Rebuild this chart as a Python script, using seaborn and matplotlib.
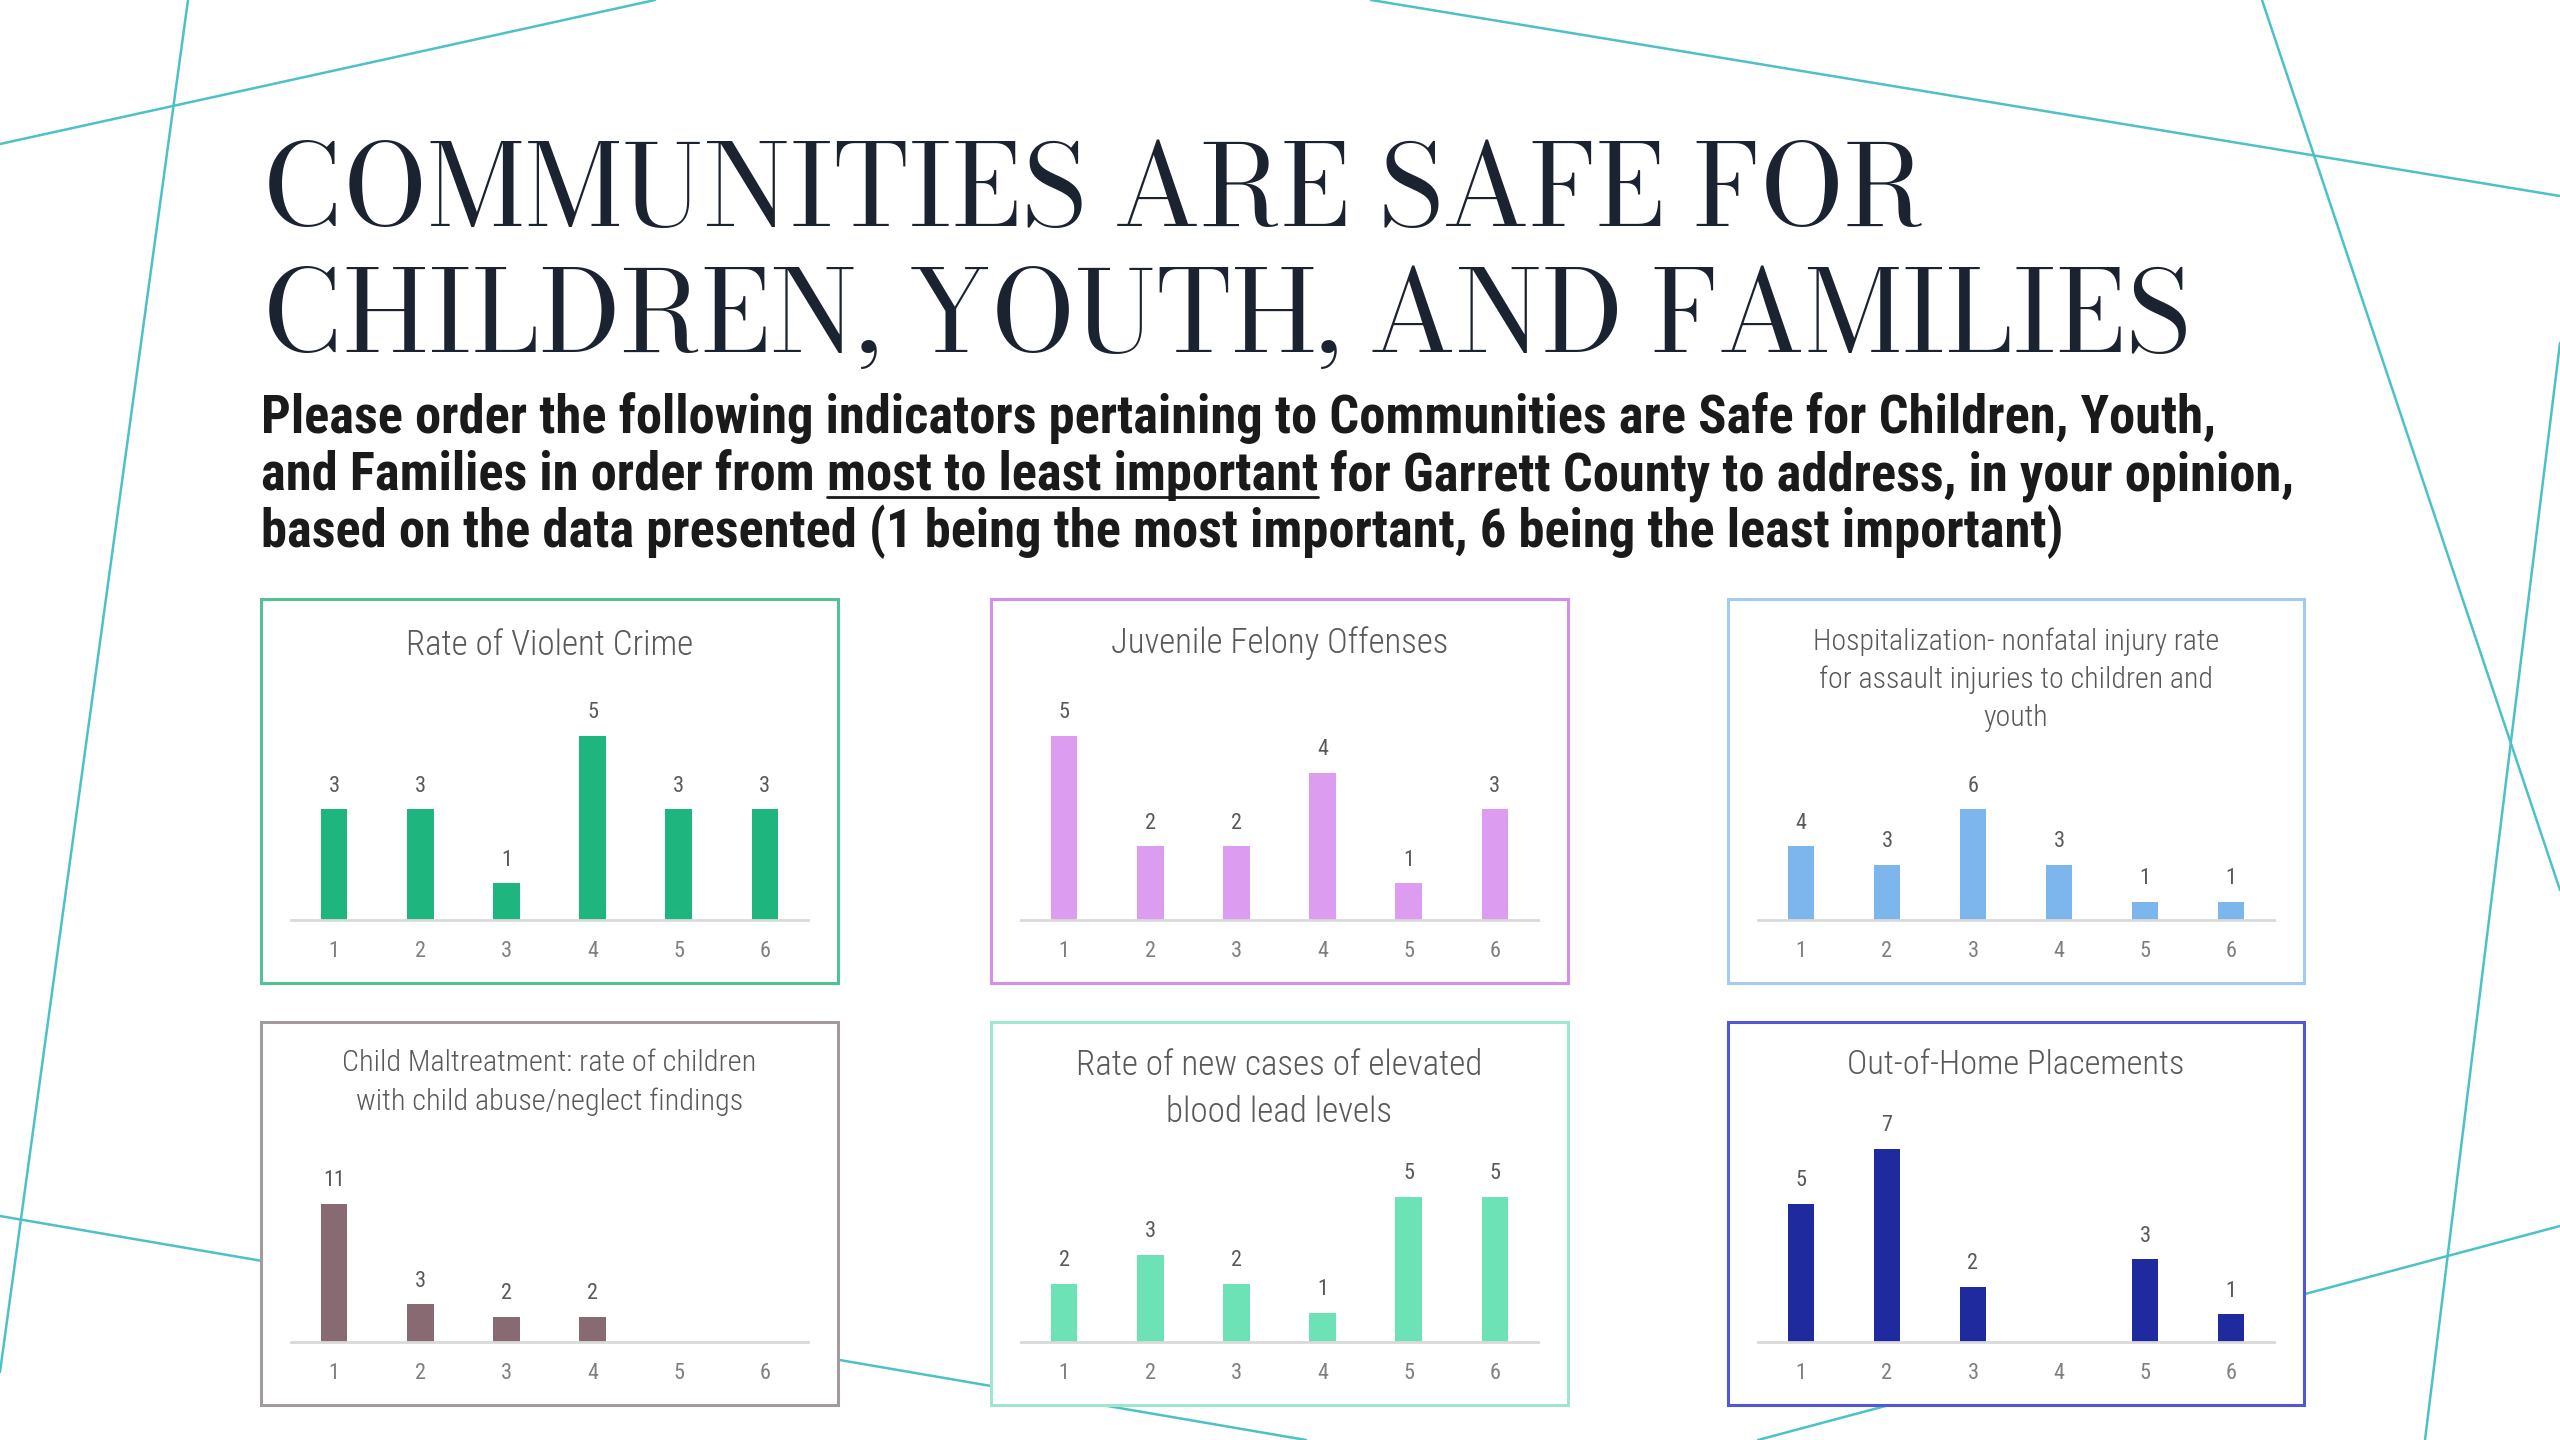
import matplotlib
matplotlib.use("Agg")
import matplotlib.pyplot as plt
import seaborn as sns
import pandas as pd
from matplotlib.patches import Rectangle
from matplotlib.lines import Line2D

# ---------------- data ----------------
ranks = ["1", "2", "3", "4", "5", "6"]
violent_crime = [3, 3, 1, 5, 3, 3]
juvenile_felony = [5, 2, 2, 4, 1, 3]
hospitalization = [4, 3, 6, 3, 1, 1]
child_maltreatment = [11, 3, 2, 2, 0, 0]
blood_lead = [2, 3, 2, 1, 5, 5]
out_of_home = [5, 7, 2, 0, 3, 1]

panel_titles = [
    ["Rate of Violent Crime"],
    ["Juvenile Felony Offenses"],
    ["Hospitalization- nonfatal injury rate", "for assault injuries to children and", "youth"],
    ["Child Maltreatment: rate of children", "with child abuse/neglect findings"],
    ["Rate of new cases of elevated", "blood lead levels"],
    ["Out-of-Home Placements"],
]
series = [violent_crime, juvenile_felony, hospitalization,
          child_maltreatment, blood_lead, out_of_home]

title_lines = ["COMMUNITIES ARE SAFE FOR", "CHILDREN, YOUTH, AND FAMILIES"]
sub_line1 = "Please order the following indicators pertaining to Communities are Safe for Children, Youth,"
sub_line2 = ["and Families in order from ", "most to least important",
             " for Garrett County to address, in your opinion,"]
sub_line3 = "based on the data presented (1 being the most important, 6 being the least important)"

# ---------------- style / layout ----------------
W, H = 2560, 1440
sns.set_theme(style="white")
COND = ["Roboto Condensed", "Roboto", "DejaVu Sans"]
SERIF = ["Bodoni Moda", "Playfair Display", "Liberation Serif", "DejaVu Serif"]
plt.rcParams["font.family"] = COND

bar_colors = ["#1fb57f", "#dc9cf0", "#7cb6ec", "#886a72", "#6ce2b6", "#1f2a9f"]
edge_colors = ["#52c195", "#d68fe8", "#a3caf0", "#a29a9c", "#9fe6cc", "#5058d8"]
line_color = "#4cc1c8"

col_x = [(261, 838), (991, 1568), (1728, 2304)]
row_y = [(599, 983), (1022, 1405)]
baselines = [920, 1342]
axes_h = 221
ymax = [6, 6, 12, 17.6, 7.6, 8.0]
title_cy = [[645], [643], [642, 680, 718], [1063, 1102], [1065, 1112], [1065]]
title_w = [287, 337, 406, 413, 406, 337]

bg_lines = [((0, 144), (655, 0)), ((188, 0), (0, 1372)), ((0, 1216), (1306, 1440)),
            ((1371, 0), (2560, 196)), ((2262, 0), (2560, 890)),
            ((2560, 343), (2425, 1440)), ((1758, 1440), (2560, 1226))]

fig = plt.figure(figsize=(W / 100, H / 100), dpi=100)
fig.patch.set_facecolor("white")
renderer = fig.canvas.get_renderer()

bg = fig.add_axes([0, 0, 1, 1], zorder=0)
bg.set_xlim(0, W)
bg.set_ylim(H, 0)
bg.axis("off")
for (p0, p1) in bg_lines:
    bg.add_line(Line2D([p0[0], p1[0]], [p0[1], p1[1]], color=line_color, lw=1.8, zorder=1))


def fit_text(x, y, s, target_w, size, **kw):
    t = fig.text(x / W, 1 - y / H, s, fontsize=size, **kw)
    w = t.get_window_extent(renderer).width
    t.set_fontsize(size * target_w / w)
    return t


# title
title_kw = dict(family=SERIF, color="#1b2330", va="baseline", ha="left")
t1 = fit_text(263, 226, title_lines[0], 1662, 80, **title_kw)
fig.text(263 / W, 1 - 352 / H, title_lines[1], fontsize=t1.get_fontsize(), **title_kw)

# subtitle
sub_kw = dict(family=COND, weight="bold", color="#1a1a1a", va="baseline", ha="left")
s1 = fit_text(261, 433, sub_line1, 1956, 30, **sub_kw)
fs_sub = s1.get_fontsize()
x = 261
for i, seg in enumerate(sub_line2):
    t = fig.text(x / W, 1 - 490 / H, seg, fontsize=fs_sub, **sub_kw)
    bb = t.get_window_extent(renderer)
    if i == 1:
        bg.add_line(Line2D([x, x + bb.width], [497, 497], color="#1a1a1a", lw=2.0, zorder=2))
    x += bb.width
fig.text(261 / W, 1 - 547 / H, sub_line3, fontsize=fs_sub, **sub_kw)

# panels
for i, vals in enumerate(series):
    r, c = divmod(i, 3)
    pl, pr = col_x[c]
    pt, pb = row_y[r]
    bg.add_patch(Rectangle((pl, pt), pr - pl, pb - pt, facecolor="white",
                           edgecolor=edge_colors[i], lw=2.2, zorder=3))
    cx = (pl + pr) / 2
    ptkw = dict(family=COND, weight="light", color="#595959", ha="center", va="center", zorder=5)
    tt = fit_text(cx, title_cy[i][0], panel_titles[i][0], title_w[i], 20, **ptkw)
    for line, cy in zip(panel_titles[i][1:], title_cy[i][1:]):
        fig.text(cx / W, 1 - cy / H, line, fontsize=tt.get_fontsize(), **ptkw)

    ax = fig.add_axes([(pl + 30) / W, 1 - baselines[r] / H, (pr - pl - 60) / W, axes_h / H], zorder=2)
    ax.patch.set_alpha(0)
    df = pd.DataFrame({"rank": ranks, "count": vals})
    sns.barplot(data=df, x="rank", y="count", ax=ax, color=bar_colors[i],
                width=0.31, saturation=1, linewidth=0)
    ax.set_xlim(-0.5, 5.5)
    ax.set_ylim(0, ymax[i])
    labels = [str(v) if v > 0 else "" for v in vals]
    ax.bar_label(ax.containers[0], labels=labels, padding=9, fontsize=16,
                 color="#595959", family=COND)
    ax.set_xlabel("")
    ax.set_ylabel("")
    ax.set_yticks([])
    ax.tick_params(axis="x", length=0, pad=15, labelsize=16, labelcolor="#7f7f7f")
    for s in ["top", "left", "right"]:
        ax.spines[s].set_visible(False)
    ax.spines["bottom"].set_color("#d9d9d9")
    ax.spines["bottom"].set_linewidth(2)

fig.savefig("out.png", dpi=100, facecolor="white")
